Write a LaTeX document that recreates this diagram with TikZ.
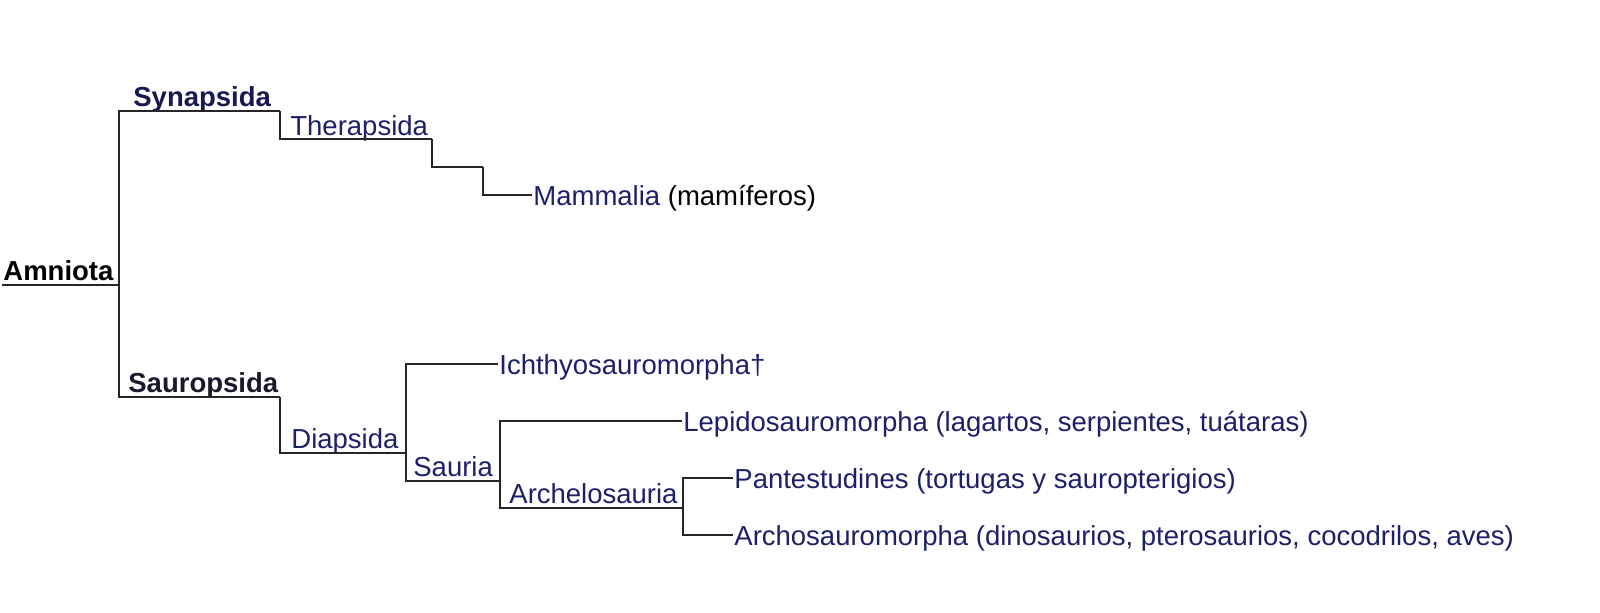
\documentclass[tikz,border=0pt]{standalone}
\usepackage{fontspec}
\setmainfont{Liberation Sans}
\definecolor{taxon}{RGB}{28,32,105}
\definecolor{taxbold}{RGB}{22,24,80}
\definecolor{sauro}{RGB}{25,25,45}
\begin{document}
\begin{tikzpicture}[x=0.5pt,y=-0.5pt]
      \tikzset{
        branch/.style={line width=0.85pt,draw=black!85},
        clade/.style={anchor=base west,inner sep=0pt,text=taxon,font=\fontsize{13.75pt}{16pt}\selectfont},
        cladebf/.style={clade,font=\fontsize{13.75pt}{16pt}\selectfont\bfseries},
        leaf/.style={anchor=west,inner xsep=0.5pt,inner ysep=0pt,text height=10pt,text depth=0pt,text=taxon,font=\fontsize{13.75pt}{16pt}\selectfont}
      }
      \useasboundingbox (0,0) rectangle (1600,612);

      % junctions
      \coordinate (r0) at (2,285);
      \coordinate (amn) at (119,285);
      \coordinate (syn) at (280,111);
      \coordinate (ther) at (432,139);
      \coordinate (m1) at (483,167);
      \coordinate (sau) at (280,397);
      \coordinate (diap) at (406,453);
      \coordinate (sauria) at (500,481);
      \coordinate (arch) at (683,508);

      % labels on the branches
      \node[cladebf,text=black] (amnlab) at (3,280) {Amniota};
      \node[cladebf,text=taxbold] (synlab) at (133,106) {Synapsida};
      \node[clade] (therlab) at (290,135) {Therapsida};
      \node[cladebf,text=sauro] (saulab) at (128,392) {Sauropsida};
      \node[clade] (diaplab) at (291,448) {Diapsida};
      \node[clade] (saurialab) at (413,476) {Sauria};
      \node[clade] (archlab) at (509,503) {Archelosauria};

      % terminal groups
      \node[leaf] (mam) at (532,195) {Mammalia \textcolor{black}{(mamíferos)}};
      \node[leaf] (ich) at (498,364) {Ichthyosauromorpha†};
      \node[leaf] (lep) at (682,421) {Lepidosauromorpha (lagartos, serpientes, tuátaras)};
      \node[leaf] (pant) at (733,478) {Pantestudines (tortugas y sauropterigios)};
      \node[leaf] (archo) at (733,535) {Archosauromorpha (dinosaurios, pterosaurios, cocodrilos, aves)};

      \draw[branch] (r0) -- (amn)
            (amn) |- (syn)
            (amn) |- (sau)
            (syn) |- (ther)
            (ther) |- (m1)
            (m1) |- (mam.west)
            (sau) |- (diap)
            (diap) |- (ich.west)
            (diap) |- (sauria)
            (sauria) |- (lep.west)
            (sauria) |- (arch)
            (arch) |- (pant.west)
            (arch) |- (archo.west);
    \end{tikzpicture}
\end{document}
